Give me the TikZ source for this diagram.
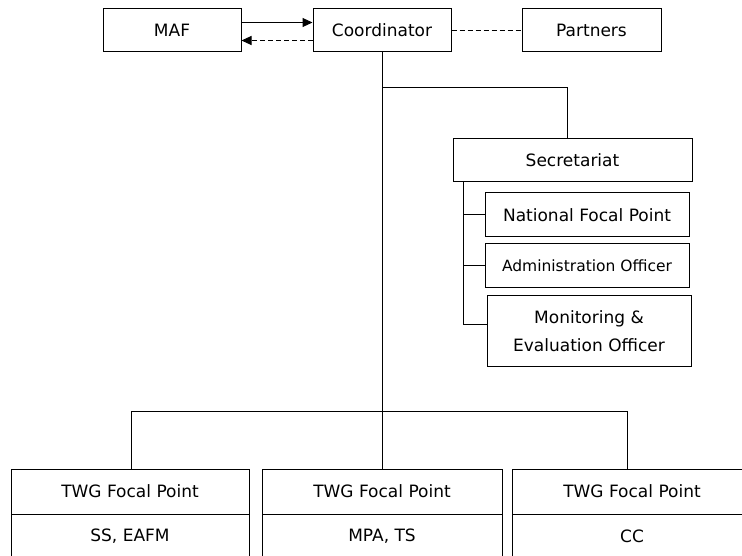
\documentclass[tikz,border=0pt]{standalone}
\usepackage{fontspec}
\setmainfont{DejaVu Sans}
\usetikzlibrary{arrows.meta}

\begin{document}
\begin{tikzpicture}[x=1pt,y=-1pt,line width=1pt,
    box/.style={draw,rectangle,inner sep=0pt,minimum height=43pt,align=center,
      font=\fontsize{17}{28}\selectfont},
    dashline/.style={dash pattern=on 5pt off 3pt}]
        \clip (0,0) rectangle (742,556);
        % top row
        \node[box,minimum width=138pt] (maf) at (172,30.5) {MAF};
        \node[box,minimum width=138pt] (coord) at (382,30.5) {Coordinator};
        \node[box,minimum width=139pt] (partners) at (591.5,30.5) {Partners};
        \draw[-{Triangle[length=10pt,width=9pt]}] ([yshift=8pt]maf.east) -- ([yshift=8pt]coord.west);
        \draw[dashline,-{Triangle[length=10pt,width=9pt]}] ([yshift=-10pt]coord.west) -- ([yshift=-10pt]maf.east);
        \draw[dashline] (coord.east) -- (partners.west);
        % secretariat
        \node[box,minimum width=239pt] (secr) at (572.5,160.5) {Secretariat};
        \node[box,minimum width=204pt,minimum height=44pt] (nfp) at (587,215) {National Focal Point};
        \node[box,minimum width=204pt,minimum height=44pt,font=\fontsize{15.5}{20}\selectfont] (admin) at (587,266) {Administration Officer};
        \node[box,minimum width=204pt,minimum height=70pt] (mne) at (589,331) {Monitoring \&\\Evaluation Officer};
        \coordinate (split) at (382,88);
        \coordinate (rail) at (463,182);
        \draw (split) -| ([xshift=-5.5pt]secr.north);
        \draw (rail) |- ([yshift=7pt]mne.west);
        \draw (rail |- nfp.west) -- (nfp.west);
        \draw (rail |- admin.west) -- (admin.west);
        % technical working groups
        \node[box,minimum width=238pt,minimum height=45pt] (twgone) at (130,491.5) {TWG Focal Point};
        \node[box,minimum width=238pt,minimum height=45pt] (twgonesub) at (130,536.5) {SS, EAFM};
        \node[box,minimum width=240pt,minimum height=45pt] (twgtwo) at (382,491.5) {TWG Focal Point};
        \node[box,minimum width=240pt,minimum height=45pt] (twgtwosub) at (382,536.5) {MPA, TS};
        \node[box,minimum width=240pt,minimum height=45pt] (twgthree) at (632,491.5) {TWG Focal Point};
        \node[box,minimum width=240pt,minimum height=45pt] (twgthreesub) at (632,536.5) {CC};
        \coordinate (bus) at (382,411.7);
        \draw (coord.south) -- (twgtwo.north);
        \draw ([xshift=1.7pt]twgone.north) |- (bus) -| ([xshift=-5pt]twgthree.north);
    \end{tikzpicture}
\end{document}
